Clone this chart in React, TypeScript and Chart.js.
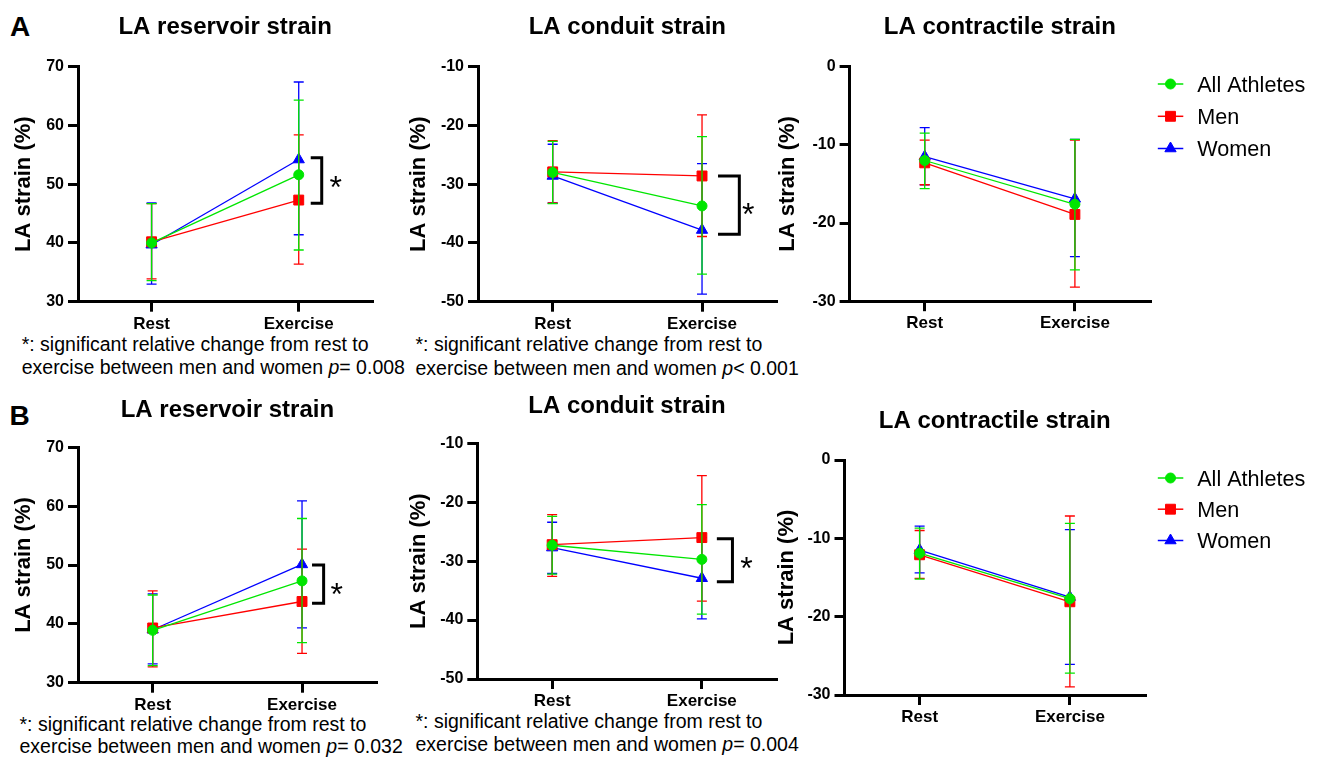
import React, { useEffect, useRef } from 'react';
import { Chart, registerables } from 'chart.js';

Chart.register(...registerables);

const FONT = "'Liberation Sans', Arial, Helvetica, sans-serif";

const categories = ['Rest', 'Exercise'];
const seriesNames = ['All Athletes', 'Men', 'Women'];
const seriesColors = ['#00e600', '#ff0000', '#0000ff'];
const seriesPointStyles = ['circle', 'rect', 'triangle'];
const seriesPointRadius = [5, 7, 6.5];
const yAxisTitle = 'LA strain (%)';

const reservoirTicks = [30, 40, 50, 60, 70];
const conduitTicks = [-50, -40, -30, -20, -10];
const contractileTicks = [-30, -20, -10, 0];

// rows: All Athletes, Men, Women ; columns: Rest, Exercise
const aReservoirMean = [[40.0, 51.6], [40.2, 47.3], [39.7, 54.2]];
const aReservoirLow = [[33.6, 38.8], [33.9, 36.4], [33.0, 41.4]];
const aReservoirHigh = [[46.7, 64.3], [46.7, 58.4], [46.8, 67.4]];
const aReservoirBracket = [54.5, 46.75];

const aConduitMean = [[-28.0, -33.7], [-27.9, -28.6], [-28.6, -37.8]];
const aConduitLow = [[-33.3, -45.3], [-33.2, -38.9], [-33.2, -48.7]];
const aConduitHigh = [[-22.7, -21.9], [-22.6, -18.2], [-23.2, -26.5]];
const aConduitBracket = [-28.6, -38.5];

const aContractileMean = [[-12.0, -17.6], [-12.3, -18.9], [-11.5, -16.9]];
const aContractileLow = [[-15.6, -26.0], [-15.1, -28.2], [-15.1, -24.3]];
const aContractileHigh = [[-8.5, -9.3], [-9.4, -9.4], [-7.8, -9.3]];

const bReservoirMean = [[38.9, 47.3], [39.3, 43.8], [39.0, 50.1]];
const bReservoirLow = [[32.9, 36.8], [32.7, 35.0], [33.2, 39.3]];
const bReservoirHigh = [[44.9, 57.9], [45.6, 52.7], [45.1, 60.9]];
const bReservoirBracket = [50.0, 43.5];

const bConduitMean = [[-27.3, -29.7], [-27.2, -26.0], [-27.7, -32.9]];
const bConduitLow = [[-32.2, -39.0], [-32.6, -36.8], [-32.1, -39.8]];
const bConduitHigh = [[-22.4, -20.4], [-22.1, -15.5], [-23.4, -26.0]];
const bConduitBracket = [-26.2, -33.5];

const bContractileMean = [[-11.9, -17.7], [-12.1, -18.1], [-11.5, -17.5]];
const bContractileLow = [[-15.2, -27.2], [-15.1, -28.95], [-14.4, -26.1]];
const bContractileHigh = [[-8.7, -8.1], [-9.0, -7.15], [-8.45, -8.9]];

const footnoteLine1 = '*: significant relative change from rest to';
const footnoteLine2 = 'exercise between men and women ';
const footnotePText = ['= 0.008', '< 0.001', '= 0.032', '= 0.004'];

type PanelCfg = {
  key: string;
  title: string;
  ticks: number[];
  mean: number[][];
  low: number[][];
  high: number[][];
  bracket?: number[];
  x0: number; y0: number; w: number; h: number;
  left: number; right: number; top: number; bottom: number;
  yTitlePad: number;
  titleBaseline: number;
  br?: { vx: number; ax: number; sx: number; sy: number };
  legendRows?: number[];
};

const panels: PanelCfg[] = [
  {
    key: 'a1', title: 'LA reservoir strain', ticks: reservoirTicks,
    mean: aReservoirMean, low: aReservoirLow, high: aReservoirHigh, bracket: aReservoirBracket,
    x0: 11, y0: 0, w: 389, h: 342, left: 78, right: 372.3, top: 66.7, bottom: 301.7,
    yTitlePad: 0.1, titleBaseline: 34.3, br: { vx: 23, ax: 12, sx: 37, sy: -1 },
  },
  {
    key: 'a2', title: 'LA conduit strain', ticks: conduitTicks,
    mean: aConduitMean, low: aConduitLow, high: aConduitHigh, bracket: aConduitBracket,
    x0: 406, y0: 0, w: 394, h: 342, left: 478, right: 776.7, top: 66.7, bottom: 301.7,
    yTitlePad: 0.1, titleBaseline: 34.3, br: { vx: 37.3, ax: 16, sx: 46.3, sy: 2 },
  },
  {
    key: 'a3', title: 'LA contractile strain', ticks: contractileTicks,
    mean: aContractileMean, low: aContractileLow, high: aContractileHigh,
    x0: 775, y0: 0, w: 543, h: 342, left: 849.6, right: 1150, top: 66.7, bottom: 301.2,
    yTitlePad: 0, titleBaseline: 34.3, legendRows: [84, 116.3, 148.5],
  },
  {
    key: 'b1', title: 'LA reservoir strain', ticks: reservoirTicks,
    mean: bReservoirMean, low: bReservoirLow, high: bReservoirHigh, bracket: bReservoirBracket,
    x0: 11, y0: 380, w: 389, h: 343, left: 78, right: 376.7, top: 447.3, bottom: 682.7,
    yTitlePad: 0.1, titleBaseline: 416.7, br: { vx: 21.6, ax: 10, sx: 34.6, sy: 2.5 },
  },
  {
    key: 'b2', title: 'LA conduit strain', ticks: conduitTicks,
    mean: bConduitMean, low: bConduitLow, high: bConduitHigh, bracket: bConduitBracket,
    x0: 405, y0: 380, w: 395, h: 339, left: 477.3, right: 776.7, top: 443.3, bottom: 679,
    yTitlePad: 0.3, titleBaseline: 413.3, br: { vx: 30.6, ax: 15, sx: 44.6, sy: 0 },
  },
  {
    key: 'b3', title: 'LA contractile strain', ticks: contractileTicks,
    mean: bContractileMean, low: bContractileLow, high: bContractileHigh,
    x0: 773, y0: 380, w: 545, h: 355, left: 844.5, right: 1145, top: 460, bottom: 695,
    yTitlePad: 0.3, titleBaseline: 428.3, legendRows: [478, 509.2, 540.5],
  },
];

function drawMarker(ctx: CanvasRenderingContext2D, style: string, r: number, x: number, y: number) {
  ctx.beginPath();
  if (style === 'circle') {
    ctx.arc(x, y, r, 0, Math.PI * 2);
  } else if (style === 'rect') {
    const s = Math.SQRT1_2 * r;
    ctx.rect(x - s, y - s, 2 * s, 2 * s);
  } else {
    let rad = 0;
    ctx.moveTo(x + Math.sin(rad) * r, y - Math.cos(rad) * r);
    rad += (2 * Math.PI) / 3;
    ctx.lineTo(x + Math.sin(rad) * r, y - Math.cos(rad) * r);
    rad += (2 * Math.PI) / 3;
    ctx.lineTo(x + Math.sin(rad) * r, y - Math.cos(rad) * r);
    ctx.closePath();
  }
  ctx.fill();
  ctx.stroke();
}

function makeDecor(cfg: PanelCfg) {
  return {
    id: 'decor_' + cfg.key,
    afterDatasetDraw(chart: any, args: any) {
      const ds: any = chart.data.datasets[args.index];
      const ys = chart.scales.y;
      const ctx: CanvasRenderingContext2D = chart.ctx;
      ctx.save();
      ctx.strokeStyle = ds.borderColor;
      ctx.lineWidth = 1.3;
      args.meta.data.forEach((pt: any, i: number) => {
        const x = pt.x;
        const yh = ys.getPixelForValue(ds.errHigh[i]);
        const yl = ys.getPixelForValue(ds.errLow[i]);
        ctx.beginPath();
        ctx.moveTo(x, yh);
        ctx.lineTo(x, yl);
        ctx.moveTo(x - 5, yh);
        ctx.lineTo(x + 5, yh);
        ctx.moveTo(x - 5, yl);
        ctx.lineTo(x + 5, yl);
        ctx.stroke();
      });
      ctx.restore();
    },
    afterDraw(chart: any) {
      const ctx: CanvasRenderingContext2D = chart.ctx;
      const ca = chart.chartArea;
      ctx.save();
      ctx.fillStyle = '#000';
      ctx.font = `bold 24px ${FONT}`;
      ctx.textAlign = 'center';
      ctx.textBaseline = 'alphabetic';
      ctx.fillText(cfg.title, (ca.left + ca.right) / 2, cfg.titleBaseline - cfg.y0);

      if (cfg.bracket && cfg.br) {
        const ex = chart.scales.x.getPixelForValue(1);
        const yt = chart.scales.y.getPixelForValue(cfg.bracket[0]);
        const yb = chart.scales.y.getPixelForValue(cfg.bracket[1]);
        ctx.strokeStyle = '#000';
        ctx.lineWidth = 3;
        ctx.lineJoin = 'miter';
        ctx.beginPath();
        ctx.moveTo(ex + cfg.br.ax, yt);
        ctx.lineTo(ex + cfg.br.vx, yt);
        ctx.lineTo(ex + cfg.br.vx, yb);
        ctx.lineTo(ex + cfg.br.ax, yb);
        ctx.stroke();
        const fs = 32;
        ctx.font = `${fs}px ${FONT}`;
        ctx.fillText('*', ex + cfg.br.sx, (yt + yb) / 2 + cfg.br.sy + 0.57 * fs);
      }

      if (cfg.legendRows) {
        const lx1 = 1157.8 - cfg.x0;
        const lx2 = 1183.3 - cfg.x0;
        const mx = 1170.5 - cfg.x0;
        const tx = 1197.2 - cfg.x0;
        const fs = 21.6;
        seriesNames.forEach((name, s) => {
          const y = cfg.legendRows![s] - cfg.y0;
          ctx.strokeStyle = seriesColors[s];
          ctx.fillStyle = seriesColors[s];
          ctx.lineWidth = 1.5;
          ctx.beginPath();
          ctx.moveTo(lx1, y);
          ctx.lineTo(lx2, y);
          ctx.stroke();
          ctx.lineWidth = 1;
          drawMarker(ctx, seriesPointStyles[s], seriesPointRadius[s], mx, y);
          ctx.fillStyle = '#000';
          ctx.font = `${fs}px ${FONT}`;
          ctx.textAlign = 'left';
          ctx.fillText(name, tx, y + 0.358 * fs);
        });
      }
      ctx.restore();
    },
  };
}

function Panel({ cfg }: { cfg: PanelCfg }) {
  const ref = useRef<HTMLCanvasElement>(null);
  useEffect(() => {
    const canvas = ref.current;
    if (!canvas) return;
    const yWidth = cfg.left - cfg.x0;
    const xHeight = cfg.h - (cfg.bottom - cfg.y0);
    const chart = new Chart(canvas, {
      type: 'line',
      data: {
        labels: categories,
        datasets: seriesNames.map((name, s) => ({
          label: name,
          data: cfg.mean[s],
          errLow: cfg.low[s],
          errHigh: cfg.high[s],
          borderColor: seriesColors[s],
          backgroundColor: seriesColors[s],
          borderWidth: 1.3,
          pointStyle: seriesPointStyles[s],
          pointRadius: seriesPointRadius[s],
          pointHoverRadius: seriesPointRadius[s],
          pointBackgroundColor: seriesColors[s],
          pointBorderColor: seriesColors[s],
          pointBorderWidth: 1,
          tension: 0,
          fill: false,
          clip: false,
        })) as any,
      },
      options: {
        animation: false,
        responsive: false,
        devicePixelRatio: 1,
        events: [],
        layout: {
          padding: {
            left: 0,
            top: cfg.top - cfg.y0,
            right: cfg.x0 + cfg.w - cfg.right,
            bottom: 0,
          },
        },
        plugins: {
          legend: { display: false },
          title: { display: false },
          tooltip: { enabled: false },
        },
        scales: {
          x: {
            type: 'category',
            offset: true,
            grid: {
              display: true,
              drawOnChartArea: false,
              drawTicks: true,
              tickLength: 10,
              color: '#000',
              lineWidth: 3,
            },
            border: { display: true, color: '#000', width: 3 },
            ticks: {
              color: '#000',
              font: { family: FONT, size: 17, weight: 'bold' },
              padding: 2,
              maxRotation: 0,
              autoSkip: false,
            },
            afterFit: (s: any) => { s.height = xHeight; },
          },
          y: {
            type: 'linear',
            min: Math.min(...cfg.ticks),
            max: Math.max(...cfg.ticks),
            afterBuildTicks: (s: any) => { s.ticks = cfg.ticks.map((v) => ({ value: v })); },
            grid: {
              display: true,
              drawOnChartArea: false,
              drawTicks: true,
              tickLength: 10,
              color: '#000',
              lineWidth: 3,
            },
            border: { display: true, color: '#000', width: 3 },
            ticks: {
              color: '#000',
              font: { family: FONT, size: 16, weight: 'bold' },
              padding: 4,
            },
            title: {
              display: true,
              text: yAxisTitle,
              color: '#000',
              font: { family: FONT, size: 22, weight: 'bold' },
              padding: { top: cfg.yTitlePad, bottom: 0 },
            },
            afterFit: (s: any) => { s.width = yWidth; },
          },
        },
      } as any,
      plugins: [makeDecor(cfg)],
    });
    return () => chart.destroy();
  }, [cfg]);
  return (
    <canvas
      ref={ref}
      width={cfg.w}
      height={cfg.h}
      style={{ position: 'absolute', left: cfg.x0, top: cfg.y0, width: cfg.w, height: cfg.h }}
    />
  );
}

const footnotes = [
  { left: 21.7, baselines: [351.7, 374.3], p: footnotePText[0] },
  { left: 415.5, baselines: [351.7, 375], p: footnotePText[1] },
  { left: 19.5, baselines: [731.7, 753.3], p: footnotePText[2] },
  { left: 415.5, baselines: [728.3, 751.7], p: footnotePText[3] },
];

export default function App() {
  const textBase: React.CSSProperties = {
    position: 'absolute',
    fontFamily: FONT,
    color: '#000',
    whiteSpace: 'nowrap',
    margin: 0,
  };
  const fnSize = 19.5;
  const fnOffset = 16.5;
  return (
    <div
      style={{
        position: 'absolute',
        left: 0,
        top: 0,
        width: 1318,
        height: 758,
        background: '#fff',
        overflow: 'hidden',
      }}
    >
      <div style={{ ...textBase, left: 10, top: 36 - 22.9, fontSize: 28, lineHeight: '28px', fontWeight: 'bold' }}>A</div>
      <div style={{ ...textBase, left: 9.5, top: 425 - 22.9, fontSize: 28, lineHeight: '28px', fontWeight: 'bold' }}>B</div>
      {footnotes.map((f, i) => (
        <React.Fragment key={i}>
          <div style={{ ...textBase, left: f.left, top: f.baselines[0] - fnOffset, fontSize: fnSize, lineHeight: `${fnSize}px` }}>
            {footnoteLine1}
          </div>
          <div style={{ ...textBase, left: f.left, top: f.baselines[1] - fnOffset, fontSize: fnSize, lineHeight: `${fnSize}px` }}>
            {footnoteLine2}
            <i>p</i>
            {f.p}
          </div>
        </React.Fragment>
      ))}
      {panels.map((cfg) => (
        <Panel key={cfg.key} cfg={cfg} />
      ))}
    </div>
  );
}
